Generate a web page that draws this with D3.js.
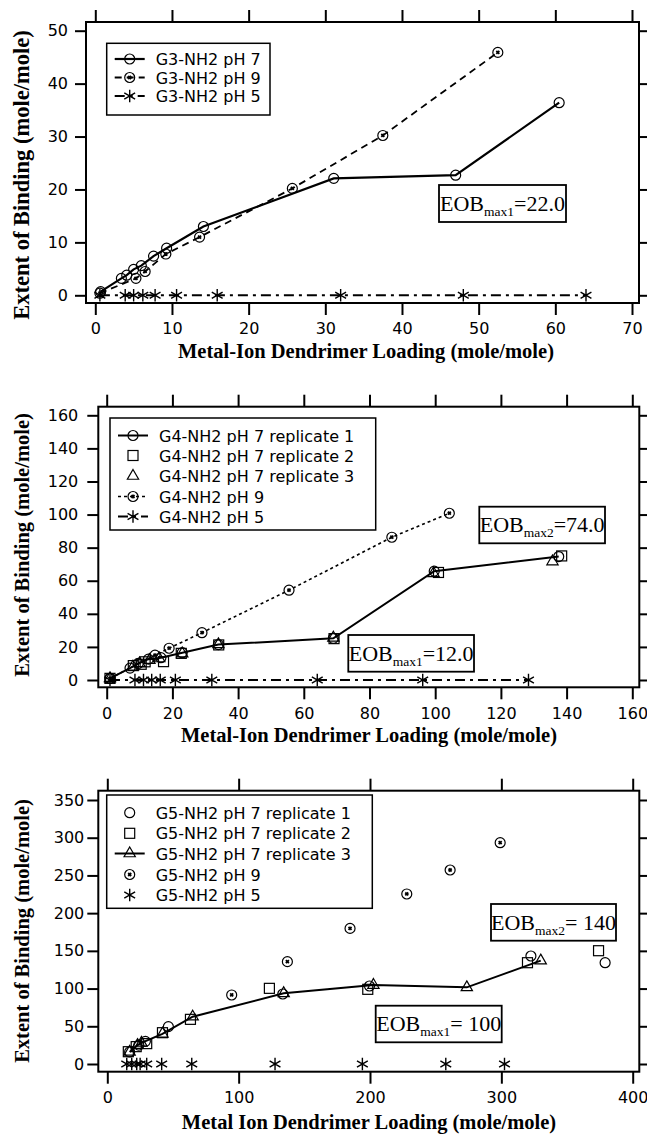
<!DOCTYPE html>
<html>
<head>
<meta charset="utf-8">
<script src="https://cdn.jsdelivr.net/npm/d3@7"></script>
<style>
  body { margin: 0; background: #fff; }
  svg { display: block; }
</style>
</head>
<body>
<svg id="chart" width="647" height="1134"></svg>
<script>
// ---- G3 panel (mole/mole)
var g3_ph7_load = [0.7, 3.4, 4.1, 5.0, 6.0, 7.6, 9.3, 14.1, 31.1, 47.0, 60.5];
var g3_ph7_eob  = [0.7, 3.2, 3.8, 4.9, 5.6, 7.4, 8.9, 13.0, 22.1, 22.7, 36.4];
var g3_ph9_load = [0.6, 5.3, 6.5, 9.2, 13.6, 25.7, 37.5, 52.5];
var g3_ph9_eob  = [0.4, 3.2, 4.5, 7.8, 11.0, 20.2, 30.2, 45.9];
var g3_ph5_load = [0.6, 3.9, 5.0, 6.2, 7.8, 10.6, 15.9, 32.0, 48.0, 64.0];
var g3_ph5_eob  = [0, 0, 0, 0, 0, 0, 0, 0, 0, 0];
var g3_x_ticks = [0, 10, 20, 30, 40, 50, 60, 70];
var g3_y_ticks = [0, 10, 20, 30, 40, 50];

// ---- G4 panel
var g4_rep1_load = [1.0, 7.1, 9.6, 12.7, 16.5, 23.0, 34.0, 69.0, 99.7, 137.6];
var g4_rep1_eob  = [1.0, 7.2, 10.0, 12.6, 13.5, 16.5, 21.4, 25.2, 65.8, 74.6];
var g4_rep2_load = [1.0, 8.1, 10.5, 11.7, 17.3, 22.7, 34.1, 69.2, 101.0, 138.5];
var g4_rep2_eob  = [1.0, 8.7, 9.5, 11.0, 11.1, 16.1, 21.2, 25.0, 65.0, 75.0];
var g4_rep3_load = [1.0, 8.0, 10.0, 13.0, 16.0, 23.0, 34.0, 69.0, 99.5, 135.7];
var g4_rep3_eob  = [1.0, 8.0, 10.0, 12.0, 13.0, 16.0, 21.5, 25.5, 64.5, 71.6];
var g4_ph9_load = [1.0, 14.7, 19.0, 29.0, 55.5, 86.8, 104.3];
var g4_ph9_eob  = [1.0, 15.0, 19.2, 28.6, 54.3, 86.3, 100.8];
var g4_ph5_load = [1.0, 8.6, 11.2, 13.7, 16.3, 20.9, 32.0, 64.1, 96.2, 128.4];
var g4_ph5_eob  = [0, 0, 0, 0, 0, 0, 0, 0, 0, 0];
var g4_x_ticks = [0, 20, 40, 60, 80, 100, 120, 140, 160];
var g4_y_ticks = [0, 20, 40, 60, 80, 100, 120, 140, 160];

// ---- G5 panel
var g5_rep1_load = [17, 24, 29, 46.5, 133.6, 199.6, 322.5, 379];
var g5_rep1_eob  = [16, 25, 30, 49.5, 92.8, 103.4, 143.2, 134.3];
var g5_rep2_load = [16, 22, 30, 42, 63.3, 123.4, 198.3, 319.9, 374];
var g5_rep2_eob  = [16.3, 23, 27, 41.5, 59.2, 100.3, 99, 134.3, 150.2];
var g5_rep3_load = [17, 23, 26, 42, 65, 134.3, 202.6, 273.7, 330];
var g5_rep3_eob  = [16, 25, 28, 40, 62.7, 93.7, 104.7, 101.6, 137];
var g5_ph9_load = [94.7, 137.1, 184.8, 228, 261, 299.1];
var g5_ph9_eob  = [91.5, 135.7, 179.8, 225.4, 257.2, 293.4];
var g5_ph5_load = [14.8, 18.6, 22.4, 25, 30, 41.4, 64.3, 127.7, 194.2, 257.7, 302.4];
var g5_ph5_eob  = [0, 0, 0, 0, 0, 0, 0, 0, 0, 0, 0];
var g5_x_ticks = [0, 100, 200, 300, 400];
var g5_y_ticks = [0, 50, 100, 150, 200, 250, 300, 350];

var y_title = "Extent of Binding (mole/mole)";

var svg = d3.select("#chart");
var sans = "DejaVu Sans";
var serif = "Liberation Serif";

var dashes = { solid: null, dash: "7,5", dot: "3,3", dashdot: "10,5,3,5" };

function draw_marker(g, type, cx, cy) {
  var m = g.append("g").attr("transform", "translate(" + cx + "," + cy + ")")
    .attr("fill", "none").attr("stroke", "#000").attr("stroke-width", 1.2);
  if (type == "circle") {
    m.append("circle").attr("r", 5);
  } else if (type == "square") {
    m.append("rect").attr("x", -5).attr("y", -5).attr("width", 10).attr("height", 10);
  } else if (type == "triangle") {
    m.append("path").attr("d", d3.symbol().type(d3.symbolTriangle).size(55)());
  } else if (type == "ph9") {
    m.append("circle").attr("r", 5);
    m.append("path").attr("d", d3.symbol().type(d3.symbolTimes).size(7)()).attr("stroke-width", 1.8);
  } else if (type == "star") {
    m.append("path").attr("d", d3.symbol().type(d3.symbolAsterisk).size(110)()).attr("stroke-width", 1.4);
  }
}

function draw_panel(p) {
  var g = svg.append("g");
  var L = p.frame[0], T = p.frame[1], R = p.frame[2], B = p.frame[3];
  var x = d3.scaleLinear().domain(p.x_cal).range(p.x_pix);
  var y = d3.scaleLinear().domain(p.y_cal).range(p.y_pix);

  g.append("g").attr("transform", "translate(0," + B + ")")
    .call(d3.axisBottom(x).tickValues(p.x_ticks).tickSize(12).tickPadding(8).tickFormat(d3.format("d")));
  g.append("g").attr("transform", "translate(0," + T + ")")
    .call(d3.axisTop(x).tickValues(p.x_ticks).tickSize(12).tickFormat(""));
  g.append("g").attr("transform", "translate(" + L + ",0)")
    .call(d3.axisLeft(y).tickValues(p.y_ticks).tickSize(11).tickPadding(p.y_pad).tickFormat(d3.format("d")));
  g.append("g").attr("transform", "translate(" + R + ",0)")
    .call(d3.axisRight(y).tickValues(p.y_ticks).tickSize(10).tickFormat(""));
  g.selectAll(".domain").remove();
  g.selectAll(".tick line").attr("stroke-width", 2);
  g.selectAll(".tick text").attr("font-family", sans).attr("font-size", 16).attr("fill", "#000");

  g.append("rect").attr("x", L).attr("y", T).attr("width", R - L).attr("height", B - T)
    .attr("fill", "none").attr("stroke", "#000").attr("stroke-width", 2);

  // series: lines first, then markers
  var line = d3.line().x(function(d) { return x(d[0]); }).y(function(d) { return y(d[1]); });
  p.series.forEach(function(s) {
    if (!s.line) return;
    g.append("path").datum(d3.zip(s.x, s.y)).attr("d", line)
      .attr("fill", "none").attr("stroke", "#000").attr("stroke-width", s.lw || 2)
      .attr("stroke-dasharray", dashes[s.line]);
  });
  p.series.forEach(function(s) {
    d3.zip(s.x, s.y).forEach(function(d) { draw_marker(g, s.marker, x(d[0]), y(d[1])); });
  });

  // legend
  var lg = p.legend;
  g.append("rect").attr("x", lg.box[0]).attr("y", lg.box[1])
    .attr("width", lg.box[2] - lg.box[0]).attr("height", lg.box[3] - lg.box[1])
    .attr("fill", "#fff").attr("stroke", "#000").attr("stroke-width", 1.5);
  p.series.forEach(function(s, i) {
    var cy = lg.rows[i];
    if (s.line) {
      g.append("line").attr("x1", lg.box[0] + 8).attr("x2", lg.box[0] + 38).attr("y1", cy).attr("y2", cy)
        .attr("stroke", "#000").attr("stroke-width", s.lw || 2).attr("stroke-dasharray", dashes[s.line]);
    }
    draw_marker(g, s.marker, lg.box[0] + 23, cy);
    g.append("text").attr("x", lg.box[0] + 49).attr("y", cy + 6)
      .attr("font-family", sans).attr("font-size", 16).text(s.name);
  });

  // EOB boxes
  p.eob.forEach(function(e) {
    g.append("rect").attr("x", e.box[0]).attr("y", e.box[1])
      .attr("width", e.box[2] - e.box[0]).attr("height", e.box[3] - e.box[1])
      .attr("fill", "#fff").attr("stroke", "#000").attr("stroke-width", 1.8);
    var t = g.append("text").attr("x", (e.box[0] + e.box[2]) / 2).attr("y", e.box[3] - 11)
      .attr("text-anchor", "middle").attr("font-family", serif).attr("font-size", 22);
    t.append("tspan").text("EOB");
    t.append("tspan").attr("font-size", 13.5).attr("dy", 5).text(e.sub);
    t.append("tspan").attr("dy", -5).text(e.val);
  });

  // titles
  g.append("text").attr("x", p.xt[0]).attr("y", p.xt[1]).attr("text-anchor", "middle")
    .attr("font-family", serif).attr("font-weight", "bold").attr("font-size", p.xt[2])
    .text(p.x_title);
  g.append("text").attr("transform", "translate(29," + p.yt[0] + ") rotate(-90)")
    .attr("text-anchor", "middle").attr("font-family", serif).attr("font-weight", "bold")
    .attr("font-size", p.yt[1]).text(y_title);
}

draw_panel({
  frame: [86, 22, 639, 303],
  x_cal: [0, 70], x_pix: [95.3, 632],
  y_cal: [0, 50], y_pix: [295.3, 30.7],
  x_ticks: g3_x_ticks, y_ticks: g3_y_ticks, y_pad: 7,
  series: [
    { name: "G3-NH2 pH 7", x: g3_ph7_load, y: g3_ph7_eob, marker: "circle", line: "solid", lw: 2.2 },
    { name: "G3-NH2 pH 9", x: g3_ph9_load, y: g3_ph9_eob, marker: "ph9", line: "dash", lw: 1.8 },
    { name: "G3-NH2 pH 5", x: g3_ph5_load, y: g3_ph5_eob, marker: "star", line: "dashdot", lw: 2 }
  ],
  legend: { box: [106.7, 43.3, 270, 115], rows: [59, 77.5, 96] },
  eob: [{ box: [439, 185, 566, 222], sub: "max1", val: "=22.0" }],
  x_title: "Metal-Ion Dendrimer Loading (mole/mole)", xt: [366, 357.5, 20.5],
  yt: [175, 22.5]
});

draw_panel({
  frame: [98.3, 406.7, 639.3, 687.3],
  x_cal: [0, 160], x_pix: [106.7, 632.3],
  y_cal: [0, 160], y_pix: [680, 415.3],
  x_ticks: g4_x_ticks, y_ticks: g4_y_ticks, y_pad: 9,
  series: [
    { name: "G4-NH2 pH 7 replicate 1", x: g4_rep1_load, y: g4_rep1_eob, marker: "circle", line: "solid", lw: 2 },
    { name: "G4-NH2 pH 7 replicate 2", x: g4_rep2_load, y: g4_rep2_eob, marker: "square" },
    { name: "G4-NH2 pH 7 replicate 3", x: g4_rep3_load, y: g4_rep3_eob, marker: "triangle" },
    { name: "G4-NH2 pH 9", x: g4_ph9_load, y: g4_ph9_eob, marker: "ph9", line: "dot", lw: 1.6 },
    { name: "G4-NH2 pH 5", x: g4_ph5_load, y: g4_ph5_eob, marker: "star", line: "dashdot", lw: 2 }
  ],
  legend: { box: [110, 418, 375.7, 530], rows: [435.5, 455.5, 476, 496.5, 516.5] },
  eob: [
    { box: [479.3, 506.7, 605, 543.3], sub: "max2", val: "=74.0" },
    { box: [348.3, 635, 474, 671.7], sub: "max1", val: "=12.0" }
  ],
  x_title: "Metal-Ion Dendrimer Loading (mole/mole)", xt: [369, 742, 20.5],
  yt: [545, 20.5]
});

draw_panel({
  frame: [98.3, 790.7, 639.3, 1071.7],
  x_cal: [0, 400], x_pix: [107.3, 632.7],
  y_cal: [0, 350], y_pix: [1064, 800],
  x_ticks: g5_x_ticks, y_ticks: g5_y_ticks, y_pad: 3,
  series: [
    { name: "G5-NH2 pH 7 replicate 1", x: g5_rep1_load, y: g5_rep1_eob, marker: "circle" },
    { name: "G5-NH2 pH 7 replicate 2", x: g5_rep2_load, y: g5_rep2_eob, marker: "square" },
    { name: "G5-NH2 pH 7 replicate 3", x: g5_rep3_load, y: g5_rep3_eob, marker: "triangle", line: "solid", lw: 2 },
    { name: "G5-NH2 pH 9", x: g5_ph9_load, y: g5_ph9_eob, marker: "ph9" },
    { name: "G5-NH2 pH 5", x: g5_ph5_load, y: g5_ph5_eob, marker: "star" }
  ],
  legend: { box: [106.7, 795, 372.3, 908.3], rows: [812.7, 833.3, 853.5, 874.5, 895] },
  eob: [
    { box: [491, 904, 616, 940.7], sub: "max2", val: "= 140" },
    { box: [375.7, 1005.7, 501.7, 1042.3], sub: "max1", val: "= 100" }
  ],
  x_title: "Metal Ion Dendrimer Loading (mole/mole)", xt: [369, 1129, 20.5],
  yt: [931, 20.5]
});
</script>
</body>
</html>
